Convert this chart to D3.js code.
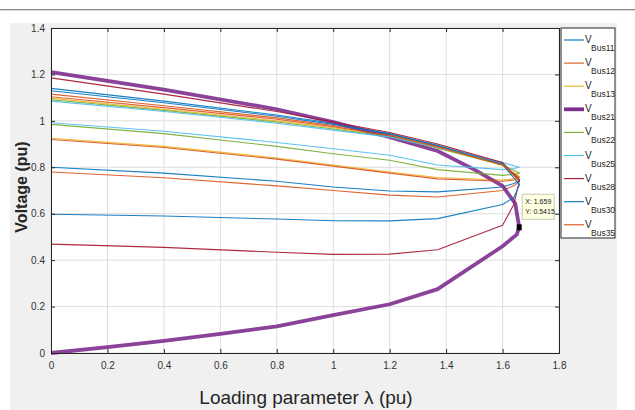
<!DOCTYPE html>
<html>
<head>
<meta charset="utf-8">
<script src="https://cdn.jsdelivr.net/npm/d3@7"></script>
<style>
  body { margin: 0; background: #fff; }
  svg text { font-family: "Liberation Sans", Arial, sans-serif; }
</style>
</head>
<body>
<svg id="chart" width="635" height="410"></svg>
<script>
// tick values
var xTicks = [0, 0.2, 0.4, 0.6, 0.8, 1, 1.2, 1.4, 1.6, 1.8];
var yTicks = [0, 0.2, 0.4, 0.6, 0.8, 1, 1.2, 1.4];

// bus names and colours (matlab order)
var busNames = ["Bus11", "Bus12", "Bus13", "Bus21", "Bus22", "Bus25", "Bus28", "Bus30", "Bus35"];
var busColors = ["#0072BD", "#D95319", "#EDB120", "#7E2F8E", "#77AC30", "#4DBEEE", "#A2142F", "#0072BD", "#D95319"];

// upper branch, loading parameter -> voltage (last point = nose)
var lamUp = [0, 0.4, 0.8, 1.0, 1.2, 1.37, 1.6, 1.66];
var bus11Up = [1.14, 1.085, 1.025, 0.99, 0.945, 0.895, 0.815, 0.745];
var bus12Up = [1.115, 1.065, 1.013, 0.98, 0.94, 0.89, 0.81, 0.74];
var bus13Up = [1.097, 1.05, 1.0, 0.97, 0.935, 0.885, 0.808, 0.76];
var bus22Up = [1.091, 1.045, 0.995, 0.965, 0.932, 0.882, 0.81, 0.775];
var bus25Up = [1.085, 1.04, 0.99, 0.96, 0.93, 0.885, 0.82, 0.8];
var bus28Up = [1.185, 1.115, 1.04, 0.995, 0.95, 0.90, 0.82, 0.745];
var bus30Up = [1.13, 1.078, 1.02, 0.985, 0.943, 0.893, 0.812, 0.725];
var bus35Up = [1.104, 1.057, 1.007, 0.975, 0.937, 0.888, 0.81, 0.755];

// lower branch
var lamLo = [0, 0.4, 0.8, 1.0, 1.2, 1.37, 1.6, 1.64];
var bus11Lo = [0.80, 0.775, 0.74, 0.715, 0.698, 0.694, 0.715, 0.73];
var bus12Lo = [0.78, 0.755, 0.72, 0.70, 0.68, 0.672, 0.70, 0.72];
var bus13Lo = [0.925, 0.89, 0.84, 0.81, 0.78, 0.756, 0.745, 0.75];
var bus22Lo = [0.985, 0.945, 0.89, 0.858, 0.83, 0.79, 0.765, 0.77];
var bus25Lo = [0.992, 0.955, 0.907, 0.88, 0.852, 0.81, 0.79, 0.795];
var bus28Lo = [0.469, 0.455, 0.434, 0.425, 0.426, 0.445, 0.55, 0.64];
var bus30Lo = [0.598, 0.59, 0.577, 0.57, 0.569, 0.579, 0.64, 0.67];
var bus35Lo = [0.92, 0.885, 0.835, 0.805, 0.775, 0.75, 0.74, 0.745];

// bus 21 (thick) has its own sample points
var lam21Up = [0, 0.4, 0.8, 1.0, 1.2, 1.37, 1.5, 1.6, 1.645, 1.659];
var bus21Up = [1.21, 1.135, 1.05, 0.995, 0.93, 0.87, 0.79, 0.72, 0.644, 0.5415];
var lam21Lo = [0, 0.2, 0.4, 0.6, 0.8, 1.0, 1.2, 1.37, 1.6, 1.65];
var bus21Lo = [0, 0.025, 0.052, 0.082, 0.115, 0.163, 0.21, 0.275, 0.46, 0.51];

// data tip
var tipX = 1.659, tipY = 0.5415;

var svg = d3.select("#chart");

// figure background
svg.append("line").attr("x1", 0).attr("x2", 635).attr("y1", 9.5).attr("y2", 9.5)
    .style("stroke", "#8a8a8a");
svg.append("line").attr("x1", 0).attr("x2", 635).attr("y1", 10.5).attr("y2", 10.5)
    .style("stroke", "#d6d6d6");
svg.append("rect").attr("x", 10).attr("y", 23).attr("width", 607).attr("height", 387)
    .style("fill", "#f0f0f0");

var margin = {left: 51, right: 559, top: 28, bottom: 353};
var x = d3.scaleLinear().domain([0, 1.8]).range([margin.left, margin.right]);
var y = d3.scaleLinear().domain([0, 1.4]).range([margin.bottom, margin.top]);

svg.append("rect")
    .attr("x", margin.left).attr("y", margin.top)
    .attr("width", margin.right - margin.left).attr("height", margin.bottom - margin.top)
    .style("fill", "#fff");

// grid
svg.append("g").selectAll("line.gx").data(xTicks).enter().append("line")
    .attr("x1", function(d) { return x(d); }).attr("x2", function(d) { return x(d); })
    .attr("y1", margin.top).attr("y2", margin.bottom)
    .style("stroke", "#dedede");
svg.append("g").selectAll("line.gy").data(yTicks).enter().append("line")
    .attr("y1", function(d) { return y(d); }).attr("y2", function(d) { return y(d); })
    .attr("x1", margin.left).attr("x2", margin.right)
    .style("stroke", "#dedede");

var fmt = function(d) { return String(+d.toFixed(1)); };

// lines
function pairs(lams, vals) {
    return lams.map(function(l, i) { return [l, vals[i]]; });
}
var curves = [
    pairs(lamUp, bus11Up).concat(pairs(lamLo, bus11Lo).reverse()),
    pairs(lamUp, bus12Up).concat(pairs(lamLo, bus12Lo).reverse()),
    pairs(lamUp, bus13Up).concat(pairs(lamLo, bus13Lo).reverse()),
    pairs(lam21Up, bus21Up).concat(pairs(lam21Lo, bus21Lo).reverse()),
    pairs(lamUp, bus22Up).concat(pairs(lamLo, bus22Lo).reverse()),
    pairs(lamUp, bus25Up).concat(pairs(lamLo, bus25Lo).reverse()),
    pairs(lamUp, bus28Up).concat(pairs(lamLo, bus28Lo).reverse()),
    pairs(lamUp, bus30Up).concat(pairs(lamLo, bus30Lo).reverse()),
    pairs(lamUp, bus35Up).concat(pairs(lamLo, bus35Lo).reverse())
];
var line = d3.line().x(function(d) { return x(d[0]); }).y(function(d) { return y(d[1]); });

svg.append("g").selectAll("path").data(curves).enter().append("path")
    .attr("d", line)
    .style("fill", "none")
    .style("stroke", function(d, i) { return busColors[i]; })
    .style("stroke-width", function(d, i) { return busNames[i] == "Bus21" ? 3.8 : 1.1; })
    .style("stroke-linejoin", "round")
    .style("opacity", 0.9);

// axes (ticks inside, like matlab)
var xAxis = d3.axisBottom(x).tickValues(xTicks).tickFormat(fmt).tickSize(-4).tickPadding(9);
var yAxis = d3.axisLeft(y).tickValues(yTicks).tickFormat(fmt).tickSize(-4).tickPadding(6);
var gx = svg.append("g").attr("transform", "translate(0," + margin.bottom + ")").call(xAxis);
var gy = svg.append("g").attr("transform", "translate(" + margin.left + ",0)").call(yAxis);
svg.append("g").attr("transform", "translate(0," + margin.top + ")")
    .call(d3.axisTop(x).tickValues(xTicks).tickFormat("").tickSize(-4));
svg.append("g").attr("transform", "translate(" + margin.right + ",0)")
    .call(d3.axisRight(y).tickValues(yTicks).tickFormat("").tickSize(-4));
svg.selectAll(".domain, .tick line").style("stroke", "#262626");
svg.selectAll(".tick text")
    .style("font-family", "'Liberation Sans Narrow', 'Liberation Sans', Arial, sans-serif")
    .style("font-size", "10px").style("fill", "#333");

// axis titles
svg.append("text")
    .attr("text-anchor", "middle")
    .attr("transform", "translate(27,187)rotate(-90)")
    .style("font-size", "16px").style("font-weight", "bold").style("fill", "#262626")
    .text("Voltage (pu)");
svg.append("text")
    .attr("text-anchor", "middle")
    .attr("x", 306).attr("y", 404)
    .style("font-size", "19px").style("fill", "#262626")
    .text("Loading parameter λ (pu)");

// data tip
svg.append("rect")
    .attr("x", x(tipX) - 2.5).attr("y", y(tipY) - 3).attr("width", 5).attr("height", 6)
    .style("fill", "#000");
var tip = svg.append("g").attr("transform", "translate(" + (x(tipX) + 3) + "," + (y(tipY) - 33) + ")");
tip.append("rect").attr("width", 32).attr("height", 25)
    .style("fill", "#ffffe1").style("stroke", "#c8c8b4");
tip.append("text").attr("x", 3).attr("y", 10).style("font-size", "7px").style("fill", "#222")
    .text("X: " + tipX);
tip.append("text").attr("x", 3).attr("y", 20).style("font-size", "7px").style("fill", "#222")
    .text("Y: " + tipY);

// legend
var legend = svg.append("g").attr("transform", "translate(561,28)");
legend.append("rect").attr("width", 54).attr("height", 210)
    .style("fill", "#fff").style("stroke", "#262626");
var items = legend.selectAll("g.item").data(busNames).enter().append("g")
    .attr("transform", function(d, i) { return "translate(0," + (12 + i * 23.1) + ")"; });
items.append("line").attr("x1", 3).attr("x2", 23)
    .style("stroke", function(d, i) { return busColors[i]; })
    .style("stroke-width", function(d) { return d == "Bus21" ? 3.8 : 1.1; });
items.append("text").attr("x", 24).attr("y", 3)
    .style("font-size", "10px").style("fill", "#262626").text("V");
items.append("text").attr("x", 30).attr("y", 11)
    .style("font-family", "'Liberation Sans Narrow', 'Liberation Sans', Arial, sans-serif")
    .style("font-size", "8.5px").style("fill", "#262626").text(function(d) { return d; });
</script>
</body>
</html>
